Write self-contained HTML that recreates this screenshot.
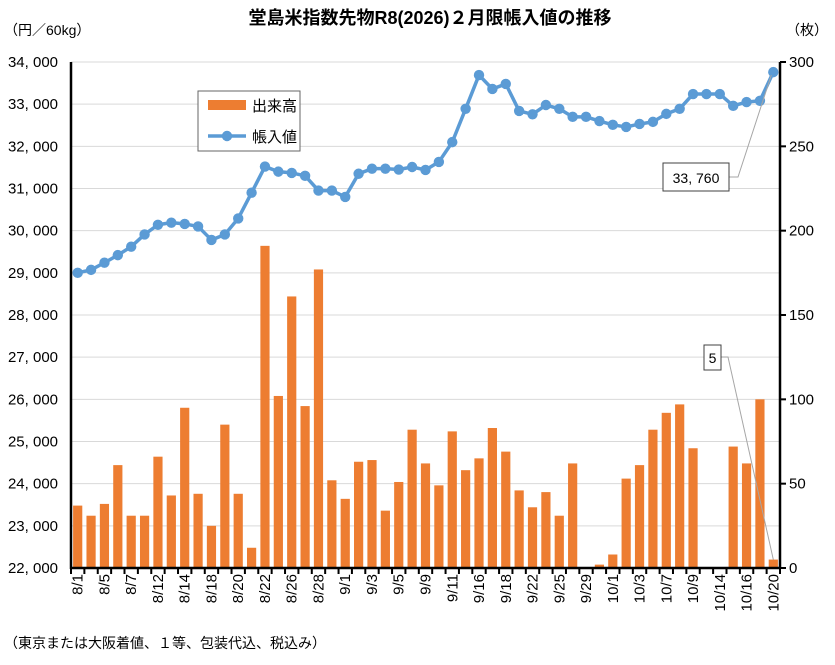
<!DOCTYPE html>
<html><head><meta charset="utf-8"><style>
body{margin:0;background:#fff;}
svg{display:block;font-family:"Liberation Sans","Noto Sans CJK JP",sans-serif;}
</style></head><body>
<svg id="c" width="835" height="665" xmlns="http://www.w3.org/2000/svg">
<text x="430" y="24" text-anchor="middle" font-size="18" font-weight="bold" fill="#000">堂島米指数先物R8(2026)２月限帳入値の推移</text>
<text x="4" y="35" font-size="14" fill="#000">（円／60kg）</text>
<text x="786" y="35" font-size="14" fill="#000">（枚）</text>
<text x="4" y="648" font-size="14" fill="#000">（東京または大阪着値、１等、包装代込、税込み）</text>
</svg>
<script>
const s=document.getElementById('c'),NS='http://www.w3.org/2000/svg';
function el(t,a,txt){const e=document.createElementNS(NS,t);for(const k in a)e.setAttribute(k,a[k]);if(txt!=null)e.textContent=txt;s.appendChild(e);return e;}
const L=71,R=780,T=62,B=568,N=53,sw=(R-L)/N;
const yl=v=>B-(v-22000)*(B-T)/12000, yr=v=>B-v*(B-T)/300;
for(let i=1;i<=12;i++){el('line',{x1:L,x2:R,y1:yl(22000+i*1000),y2:yl(22000+i*1000),stroke:'#d9d9d9','stroke-width':1});}
const bars=[37,31,38,61,31,31,66,43,95,44,25,85,44,12,191,102,161,96,177,52,41,63,64,34,51,82,62,49,81,58,65,83,69,46,36,45,31,62,0,2,8,53,61,82,92,97,71,0,0,72,62,100,5];
const line=[29000,29070,29240,29420,29620,29910,30140,30190,30160,30100,29780,29910,30290,30900,31520,31400,31370,31300,30950,30950,30800,31350,31470,31470,31450,31510,31440,31630,32100,32890,33690,33360,33480,32840,32760,32980,32890,32700,32700,32600,32510,32460,32530,32580,32770,32890,33240,33240,33240,32960,33050,33080,33760];
const labels=['8/1','8/5','8/7','8/12','8/14','8/18','8/20','8/22','8/26','8/28','9/1','9/3','9/5','9/9','9/11','9/16','9/18','9/22','9/25','9/29','10/1','10/3','10/7','10/9','10/14','10/16','10/20'];
const cx=i=>L+sw*(i+0.5);
bars.forEach((v,i)=>{if(v>0)el('rect',{x:cx(i)-4.6,y:yr(v),width:9.2,height:B-yr(v),fill:'#ed7d31'});});
el('line',{x1:L,x2:L,y1:T,y2:B+1,stroke:'#000','stroke-width':2.5});
el('line',{x1:R,x2:R,y1:T,y2:B+1,stroke:'#000','stroke-width':2.5});
el('line',{x1:L-1,x2:R+1,y1:B,y2:B,stroke:'#000','stroke-width':2.5});
for(let i=0;i<=N;i++){const x=L+sw*i;el('line',{x1:x,x2:x,y1:B,y2:B+6,stroke:'#000','stroke-width':2});}
for(let i=0;i<=6;i++){const y=yr(i*50);el('line',{x1:R,x2:R+6,y1:y,y2:y,stroke:'#000','stroke-width':2});el('text',{x:R+9,y:y+5,'font-size':15},String(i*50));}
for(let i=0;i<=12;i++){const v=22000+i*1000;el('text',{x:58,y:yl(v)+5,'font-size':15,'text-anchor':'end'},String(v).replace(/(\d\d)(\d\d\d)$/,'$1, $2'));}
labels.forEach((t,k)=>{const x=cx(k*2)+5;el('text',{x:x,y:574,'font-size':15,'text-anchor':'end',transform:`rotate(-90 ${x} 574)`},t);});
el('polyline',{points:line.map((v,i)=>cx(i)+','+yl(v)).join(' '),fill:'none',stroke:'#5b9bd5','stroke-width':3.5,'stroke-linejoin':'round'});
line.forEach((v,i)=>el('circle',{cx:cx(i),cy:yl(v),r:5.2,fill:'#5b9bd5'}));
el('rect',{x:198,y:91,width:102,height:60,fill:'#fff',stroke:'#666','stroke-width':1});
el('rect',{x:208,y:100,width:38,height:10,fill:'#ed7d31'});
el('text',{x:252,y:111,'font-size':15},'出来高');
el('line',{x1:208,x2:246,y1:136,y2:136,stroke:'#5b9bd5','stroke-width':3.5});
el('circle',{cx:227,cy:136,r:5.2,fill:'#5b9bd5'});
el('text',{x:252,y:142,'font-size':15},'帳入値');
el('polyline',{points:`729,177 738,177 ${cx(52)-2},${yl(33760)+3}`,fill:'none',stroke:'#a6a6a6','stroke-width':1});
el('rect',{x:663,y:163,width:66,height:28,fill:'#fff',stroke:'#404040','stroke-width':1});
el('text',{x:696,y:183,'font-size':14,'text-anchor':'middle'},'33, 760');
el('polyline',{points:`721,357 728,357 ${cx(52)},${yr(5)}`,fill:'none',stroke:'#a6a6a6','stroke-width':1});
el('rect',{x:704,y:345,width:17,height:25,fill:'#fff',stroke:'#404040','stroke-width':1});
el('text',{x:712.5,y:363,'font-size':14,'text-anchor':'middle'},'5');
</script>
</body></html>
